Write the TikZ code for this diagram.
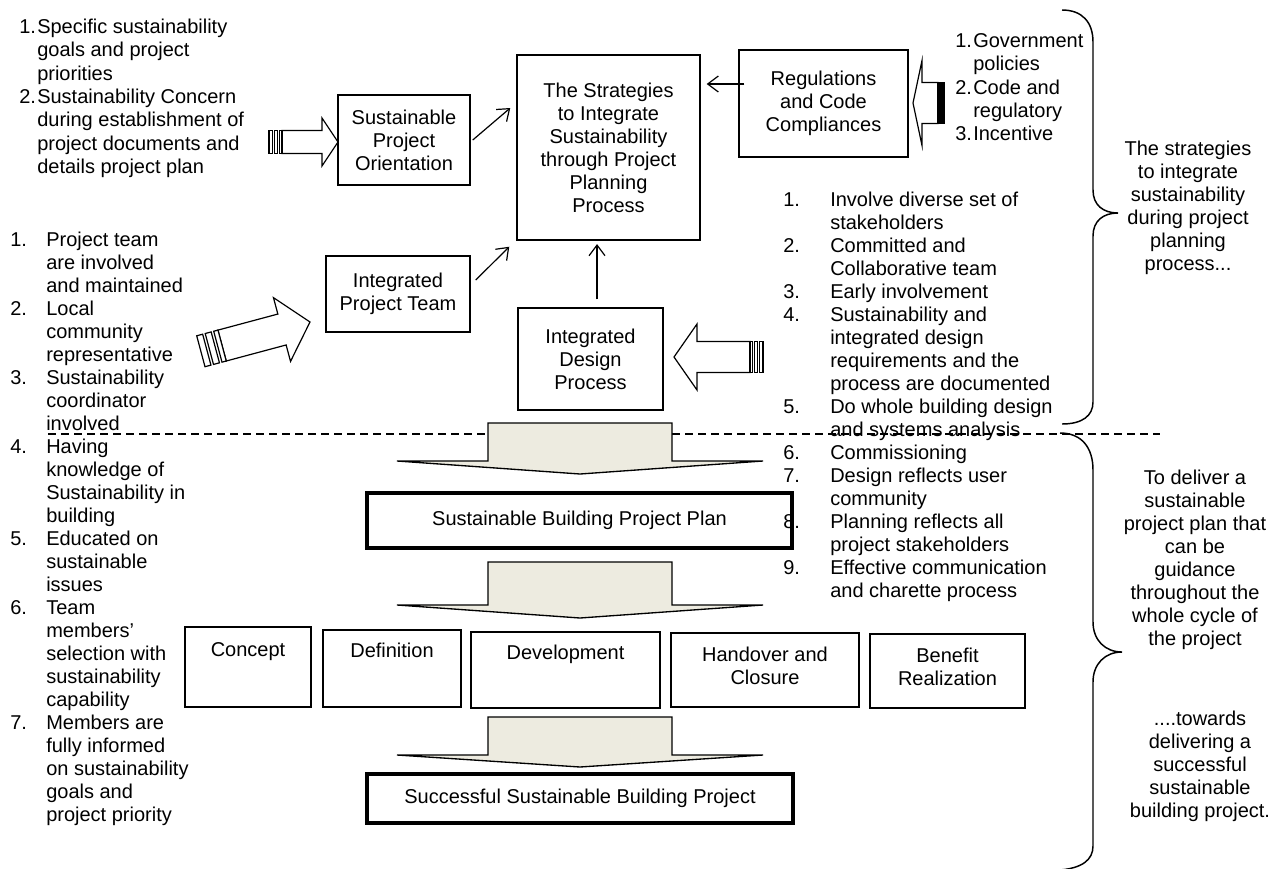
\documentclass[tikz,border=0pt]{standalone}
\usepackage{fontspec}
\setmainfont{Liberation Sans}
\usetikzlibrary{arrows.meta}
\newdimen\pxu \pxu=0.75pt
\definecolor{beige}{RGB}{237,235,224}
\newcommand\numA[1]{\makebox[27pt][l]{#1}}
\newcommand\numB[1]{\makebox[35.25pt][l]{#1}}
\newcommand\numC[1]{\makebox[13.5pt][l]{#1}}
\newcommand\numD[1]{\makebox[13.5pt][l]{#1}}
\newcommand\pdot{.{}}
\tikzset{
 txt/.style={font=\fontsize{15}{17.25}\selectfont, inner sep=0pt},
 lst/.style={txt, anchor=mid west},
 cln/.style={txt, anchor=mid},
 box/.style={draw, line width=1.1pt, inner sep=0pt, align=center, txt},
 thickbox/.style={box, line width=2.4pt},
 conn/.style={-{Straight Barb[length=8pt,width=12pt]}, line width=0.9pt},
 sarr/.style={draw, line width=0.9pt, fill=white, line join=miter},
 downarr/.style={draw, line width=1pt, fill=beige, line join=miter},
 brace/.style={draw, line width=1.1pt},
 dline/.style={line width=1.1pt, dash pattern=on 6pt off 3.75pt},
}
% striped block arrow: tip x, tip y, angle, head length, head half width, body half width, body length, tail width
\newcommand\sarrow[8]{%
\begin{scope}[shift={(#1,#2)}, rotate=#3]
\draw[sarr] (0,0) -- (-#4,-#5) -- (-#4,-#6) -- ({-#4-#7},-#6) -- ({-#4-#7},#6) -- (-#4,#6) -- (-#4,#5) -- cycle;
\draw[sarr] ({-#4-#7-#8},-#6) rectangle ({-#4-#7-0.72*#8},#6);
\draw[sarr] ({-#4-#7-0.6*#8},-#6) rectangle ({-#4-#7-0.32*#8},#6);
\draw[sarr] ({-#4-#7-0.2*#8},-#6) rectangle ({-#4-#7},#6);
\end{scope}}
% text lines: prefix, style, x, y0, step, items
\newcommand\textlines[6]{%
\foreach \ln [count=\i] in {#6} {\node[#2] (#1\i) at (#3, {#4+#5*(\i-1)}) {\ln};}}
\begin{document}
\begin{tikzpicture}[x=0.75pt, y=-0.75pt]
\useasboundingbox (0,0) rectangle (1281,868);

% dashed separator
\coordinate (dl) at (48,434);
\coordinate (dr) at (1160,434);
\draw[dline] (dl) -- (dr);

% top boxes
\node[box, minimum width=183\pxu, minimum height=185\pxu] (main) at (608.5,147.5)
  {The Strategies\\to Integrate\\Sustainability\\through Project\\Planning\\Process};
\node[box, minimum width=132\pxu, minimum height=90\pxu] (orient) at (404,140)
  {Sustainable\\Project\\Orientation};
\node[box, minimum width=169\pxu, minimum height=107\pxu] (reg) at (823.5,103.5)
  {Regulations\\and Code\\Compliances};
\node[box, minimum width=144\pxu, minimum height=76\pxu] (ipt) at (398,294)
  {Integrated\\Project Team};
\node[box, minimum width=145\pxu, minimum height=102\pxu] (idp) at (590.5,359)
  {Integrated\\Design\\Process};

% connectors
\draw[conn, shorten >=4.5pt] ([shift={(6,-19.5)}]reg.west) -- ([yshift=14.625pt]reg.west -| main.east);
\draw[conn] ([xshift=1.5pt]orient.east) -- ([shift={(-6,-39.5)}]main.west);
\draw[conn] ([shift={(5,-14)}]ipt.east) -- ([shift={(-7,6)}]main.south west);
\draw[conn, shorten >=2.5pt] ([shift={(6.5,-8)}]idp.north) -- ([shift={(6.5,0)}]idp.north |- main.south);

% striped block arrows
\sarrow{338}{142}{0}{16}{24}{11.5}{40}{13}
\sarrow{310}{322}{15}{29}{33}{16}{62}{22}
\sarrow{674}{357}{180}{23}{33}{15.5}{53}{13}
\sarrow{913}{103}{180}{9}{42.5}{20.5}{16}{6}

% down arrows
\path[downarr] (488,423) -- (672,423) -- (672,461) -- (763,461) -- (580,474) -- (397,461) -- (488,461) -- cycle;
\path[downarr] (488,562) -- (672,562) -- (672,605) -- (763,605) -- (580,618) -- (397,605) -- (488,605) -- cycle;
\path[downarr] (488,717) -- (672,717) -- (672,755) -- (763,755) -- (580,767) -- (397,755) -- (488,755) -- cycle;

% plan boxes
\node[thickbox, minimum width=425\pxu, minimum height=55\pxu] (plan) at (579.5,520.5) {Sustainable Building Project Plan};
\node[thickbox, minimum width=426\pxu, minimum height=49\pxu] (succ) at (580,798.5) {Successful Sustainable Building Project};

% phase boxes
\node[box, minimum width=126\pxu, minimum height=80\pxu] (concept) at (248,667) {};
\node[txt, anchor=north] (conceptT) at ([yshift=-12pt]concept.north) {Concept};
\node[box, minimum width=138\pxu, minimum height=77\pxu] (defin) at (392,668.5) {};
\node[txt, anchor=north] (definT) at ([yshift=-9.75pt]defin.north) {Definition};
\node[box, minimum width=189\pxu, minimum height=76\pxu] (devel) at (565.5,670) {};
\node[txt, anchor=north] (develT) at ([yshift=-9.75pt]devel.north) {Development};
\node[box, minimum width=188\pxu, minimum height=74\pxu] (hand) at (765,670) {};
\node[txt, anchor=north, align=center] (handT) at ([yshift=-10.5pt]hand.north) {Handover and\\Closure};
\node[box, minimum width=155\pxu, minimum height=74\pxu] (bene) at (947.5,671) {};
\node[txt, anchor=north, align=center] (beneT) at ([yshift=-10.5pt]bene.north) {Benefit\\Realization};

% lists
\textlines{TL}{lst}{19}{30}{23.3}{{\numC{1.}Specific sustainability},{\numC{}goals and project},{\numC{}priorities},{\numC{2.}Sustainability Concern},{\numC{}during establishment of},{\numC{}project documents and},{\numC{}details project plan}}
\textlines{TR}{lst}{955}{44}{23.3}{{\numD{1.}Government},{\numD{}policies},{\numD{2.}Code and},{\numD{}regulatory},{\numD{3.}Incentive}}
\textlines{LM}{lst}{10}{243}{23}{{\numA{1.}Project team},{\numA{}are involved},{\numA{}and maintained},{\numA{2.}Local},{\numA{}community},{\numA{}representative},{\numA{3.}Sustainability},{\numA{}coordinator},{\numA{}involved},{\numA{4.}Having},{\numA{}knowledge of},{\numA{}Sustainability in},{\numA{}building},{\numA{5.}Educated on},{\numA{}sustainable},{\numA{}issues},{\numA{6.}Team},{\numA{}members’},{\numA{}selection with},{\numA{}sustainability},{\numA{}capability},{\numA{7.}Members are},{\numA{}fully informed},{\numA{}on sustainability},{\numA{}goals and},{\numA{}project priority}}
\textlines{RM}{lst}{783}{203}{23}{{\numB{1.}Involve diverse set of},{\numB{}stakeholders},{\numB{2.}Committed and},{\numB{}Collaborative team},{\numB{3.}Early involvement},{\numB{4.}Sustainability and},{\numB{}integrated design},{\numB{}requirements and the},{\numB{}process are documented},{\numB{5.}Do whole building design},{\numB{}and systems analysis},{\numB{6.}Commissioning},{\numB{7.}Design reflects user},{\numB{}community},{\numB{8.}Planning reflects all},{\numB{}project stakeholders},{\numB{9.}Effective communication},{\numB{}and charette process}}

% right annotations
\textlines{AA}{cln}{1188}{152}{23}{{The strategies},{to integrate},{sustainability},{during project},{planning},{process\pdot\pdot\pdot}}
\textlines{AB}{cln}{1195}{481}{23}{{To deliver a},{sustainable},{project plan that},{can be},{guidance},{throughout the},{whole cycle of},{the project}}
\textlines{AC}{cln}{1200}{722}{23}{{\pdot\pdot\pdot\pdot towards},{delivering a},{successful},{sustainable},{building project.}}

% braces
\draw[brace] (1062,10) .. controls (1082,10) and (1093,22) .. (1093,42) -- (1093,190) .. controls (1093,205) and (1103,213) .. (1118,213) .. controls (1103,213) and (1093,221) .. (1093,236) -- (1093,402) .. controls (1093,416) and (1082,424) .. (1062,424);
\draw[brace] (1060,433) .. controls (1082,433) and (1093,448) .. (1093,470) -- (1093,622) .. controls (1093,640) and (1105,652) .. (1122,652) .. controls (1105,652) and (1093,664) .. (1093,682) -- (1093,846) .. controls (1093,860) and (1082,868) .. (1060,870);
\end{tikzpicture}
\end{document}
